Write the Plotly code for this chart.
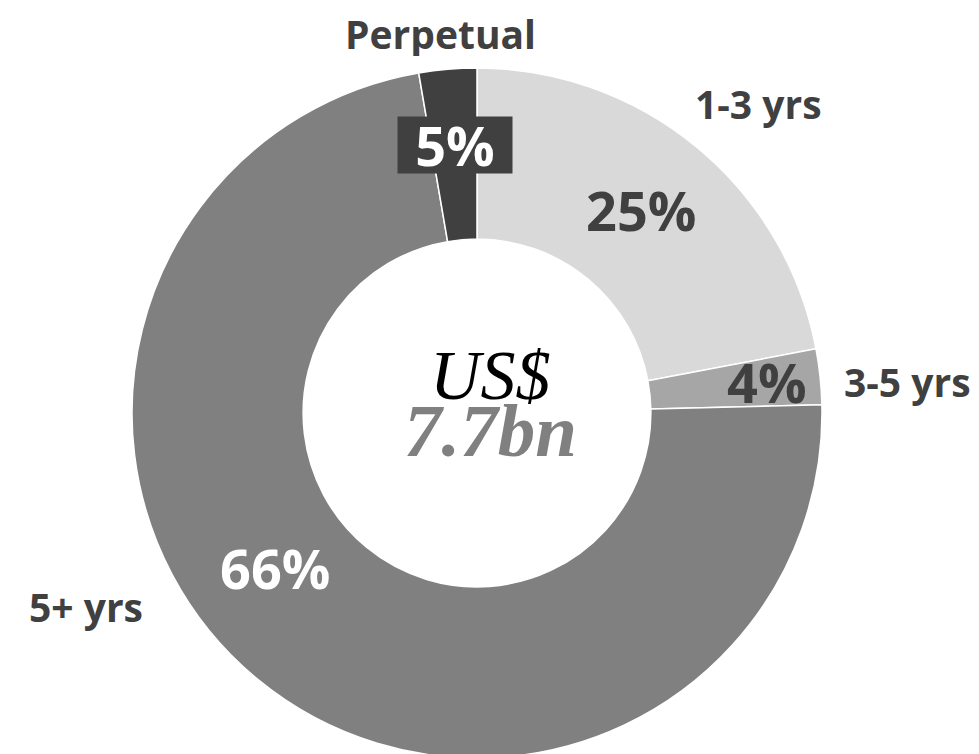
import plotly.graph_objects as go

# ---- data ----
categories = ["1-3 yrs", "3-5 yrs", "5+ yrs", "Perpetual"]
slice_values = [22.0, 2.6, 72.6, 2.7]          # slice sizes as drawn
pct_labels = ["25%", "4%", "66%", "5%"]         # labels printed on the chart
center_line1 = "US$"
center_line2 = "7.7bn"

# ---- styles / layout ----
W, H = 979, 754
OFF = 8                      # page body margin
colors = ["#d9d9d9", "#a6a6a6", "#808080", "#404040"]
pct_colors = ["#404040", "#404040", "#ffffff", "#ffffff"]
TXT = "#404040"

cx, cy, R = 477, 413, 345   # pie centre and radius in screen px


def px(x, y):
    return (x - OFF) / W, 1 - (y - OFF) / H


# screen-pixel positions of the labels (layout, not data)
cat_pos = [(758, 104), (907, 381), (86, 606), (440, 33)]
pct_pos = [(641, 210), (767, 382), (275, 568), (455, 145)]

fx0, fy0 = px(cx - R, cy + R)
fx1, fy1 = px(cx + R, cy - R)

fig = go.Figure(
    go.Pie(
        labels=categories,
        values=slice_values,
        sort=False,
        direction="clockwise",
        rotation=0,
        hole=0.504,
        marker=dict(colors=colors, line=dict(color="#ffffff", width=1.5)),
        textinfo="none",
        hoverinfo="label+percent",
        showlegend=False,
        domain=dict(x=[fx0, fx1], y=[fy0, fy1]),
    )
)

ann = []
for name, (x, y) in zip(categories, cat_pos):
    xp, yp = px(x, y)
    a = dict(x=xp, y=yp, xref="paper", yref="paper", text=name, showarrow=False,
             xanchor="center", yanchor="middle",
             font=dict(family="Open Sans", size=39, color=TXT, weight="bold"))
    if name == "Perpetual":
        a.update(height=46)
    ann.append(a)

for i, (lab, (x, y)) in enumerate(zip(pct_labels, pct_pos)):
    xp, yp = px(x, y)
    a = dict(x=xp, y=yp, xref="paper", yref="paper", text=lab, showarrow=False,
             xanchor="center", yanchor="middle",
             font=dict(family="Open Sans", size=54, color=pct_colors[i], weight="bold"))
    if categories[i] == "Perpetual":
        a.update(bgcolor=colors[i], width=114, height=56, borderpad=0)
    ann.append(a)

xp, yp = px(490, 375)
ann.append(dict(x=xp, y=yp, xref="paper", yref="paper", text=center_line1, showarrow=False,
                xanchor="center", yanchor="middle",
                font=dict(family="Liberation Serif", size=70, color="#000000", style="italic")))
xp, yp = px(490, 430)
ann.append(dict(x=xp, y=yp, xref="paper", yref="paper", text=center_line2, showarrow=False,
                xanchor="center", yanchor="middle",
                font=dict(family="Liberation Serif", size=75, color="#808080", style="italic", weight="bold")))

fig.update_layout(
    width=W, height=H,
    margin=dict(l=0, r=0, t=0, b=0),
    paper_bgcolor="#ffffff",
    plot_bgcolor="#ffffff",
    annotations=ann,
)

fig.write_html("out.html")
